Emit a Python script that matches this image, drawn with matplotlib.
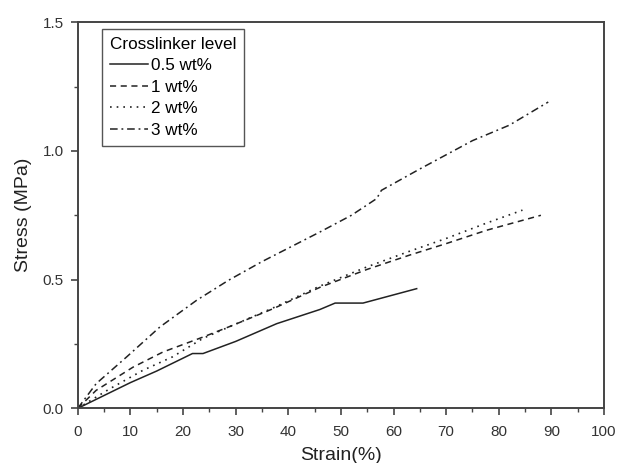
import matplotlib.pyplot as plt

plt.rcParams["font.family"] = ["Liberation Sans", "DejaVu Sans"]

labels = ["0.5 wt%", "1 wt%", "2 wt%", "3 wt%"]

strain_05 = [0, 5, 10, 15, 21.8, 23.8, 30, 37.8, 46, 48.9, 54.2, 64.4]
stress_05 = [0, 0.05, 0.1, 0.145, 0.213, 0.213, 0.26, 0.329, 0.384, 0.409, 0.409, 0.465]

strain_1 = [0, 3.5, 10.5, 16.2, 23.8, 29.5, 37.1, 46, 55, 63, 70, 77.7, 88]
stress_1 = [0, 0.07, 0.16, 0.219, 0.277, 0.323, 0.387, 0.47, 0.54, 0.595, 0.64, 0.692, 0.75]

strain_2 = [0, 6, 12.4, 18, 23.8, 29.5, 37.1, 46, 55, 63, 70, 77.7, 84.5]
stress_2 = [0, 0.075, 0.148, 0.2, 0.272, 0.323, 0.39, 0.475, 0.55, 0.61, 0.66, 0.72, 0.77]

strain_3 = [0, 3.5, 9.3, 15.6, 22.6, 28.6, 35, 46, 52, 56.8, 57.7, 65, 75, 82, 89.4]
stress_3 = [0, 0.096, 0.2, 0.316, 0.42, 0.497, 0.57, 0.685, 0.75, 0.815, 0.847, 0.93, 1.04, 1.1, 1.19]

fig, ax = plt.subplots(figsize=(6.17, 4.63), dpi=100)
fig.subplots_adjust(left=0.126, right=0.979, top=0.952, bottom=0.118)

col = "#222222"
ax.plot(strain_05, stress_05, "-", color=col, lw=1.1, label=labels[0])
ax.plot(strain_1, stress_1, "--", color=col, lw=1.1, dashes=(4, 3), label=labels[1])
ax.plot(strain_2, stress_2, ":", color=col, lw=1.2, dashes=(1, 3), label=labels[2])
ax.plot(strain_3, stress_3, "-.", color=col, lw=1.1, dashes=(5, 2.5, 1.2, 2.5), label=labels[3])

ax.set_xlim(0, 100)
ax.set_ylim(0, 1.5)
ax.set_xticks(range(0, 101, 10))
ax.set_xticks(range(5, 100, 10), minor=True)
ax.set_yticks([0, 0.5, 1.0, 1.5])
ax.set_yticks([0.25, 0.75, 1.25], minor=True)
ax.set_yticklabels(["0.0", "0.5", "1.0", "1.5"])

for s in ax.spines.values():
    s.set_linewidth(1.4)
    s.set_color("#444444")
ax.tick_params(which="major", direction="out", length=5, width=1.2, color="#444444",
               labelsize=11, labelcolor="#333333", pad=5)
ax.tick_params(axis="x", which="major", pad=7)
ax.tick_params(which="minor", direction="out", length=3, width=1.0, color="#444444")

ax.set_xlabel("Strain(%)", fontsize=14, color="#222222", labelpad=6)
ax.set_ylabel("Stress (MPa)", fontsize=14, color="#222222", labelpad=8)

leg = ax.legend(title="Crosslinker level", loc="upper left", bbox_to_anchor=(0.047, 0.982),
                fontsize=12.3, title_fontsize=12.3, fancybox=False, edgecolor="#555555",
                handlelength=2.2, handletextpad=0.2, labelspacing=0.38, borderpad=0.45,
                borderaxespad=0, framealpha=1, alignment="left")
leg.get_frame().set_linewidth(1.0)

fig.savefig("out.png", dpi=100)
